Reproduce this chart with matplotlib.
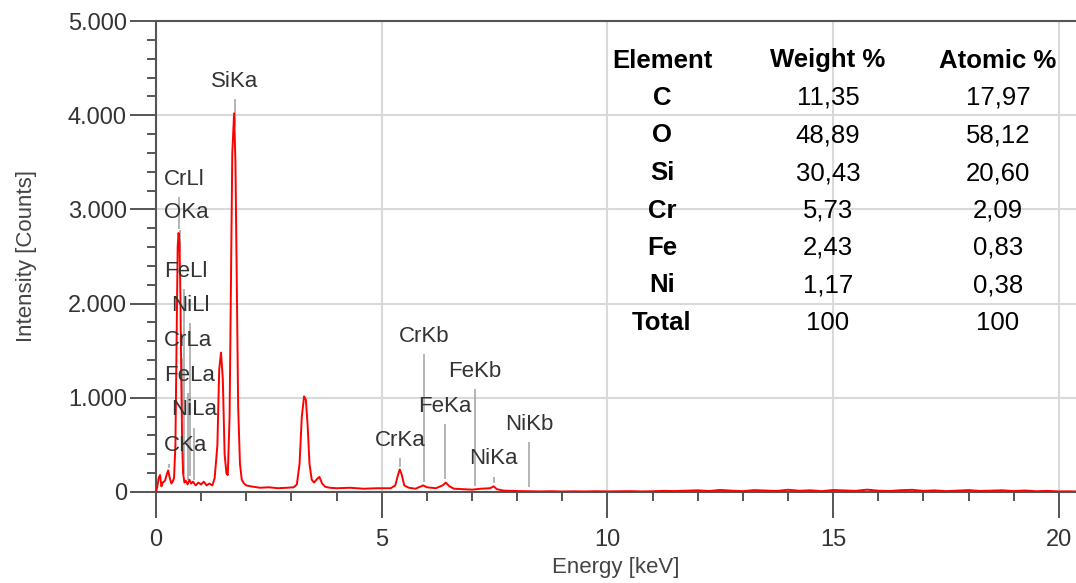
import numpy as np
import matplotlib.pyplot as plt
from matplotlib.ticker import MultipleLocator, FuncFormatter

plt.rcParams['font.family'] = ['Liberation Sans', 'DejaVu Sans']

# EDS spectrum (energy in keV, intensity in counts)
energy_kev = [0.00, 0.03, 0.06, 0.09, 0.12, 0.15, 0.20, 0.24, 0.27, 0.30, 0.34, 0.37, 0.40,
              0.43, 0.46, 0.48, 0.50, 0.52, 0.54, 0.56, 0.58, 0.60, 0.63, 0.66, 0.70, 0.74,
              0.78, 0.82, 0.88, 0.94, 1.00, 1.06, 1.12, 1.18, 1.25, 1.30, 1.36, 1.40, 1.44,
              1.48, 1.52, 1.56, 1.59, 1.63, 1.66, 1.69, 1.73, 1.76, 1.79, 1.82, 1.86, 1.90,
              1.95, 2.00, 2.10, 2.30, 2.50, 2.70, 2.90, 3.05, 3.12, 3.18, 3.23, 3.28, 3.32,
              3.36, 3.40, 3.45, 3.50, 3.57, 3.62, 3.68, 3.75, 3.85, 4.00, 4.30, 4.60, 4.90,
              5.20, 5.30, 5.36, 5.40, 5.44, 5.50, 5.60, 5.75, 5.92, 6.00, 6.20, 6.35, 6.42,
              6.50, 6.60, 6.80, 7.00, 7.20, 7.40, 7.48, 7.55, 7.70,
              8.00, 8.25, 8.50, 8.75, 9.00, 9.25, 9.50, 9.75, 10.00, 10.25, 10.50, 10.75,
              11.00, 11.25, 11.50, 11.75, 12.00, 12.25, 12.50, 12.75, 13.00, 13.25, 13.50,
              13.75, 14.00, 14.25, 14.50, 14.75, 15.00, 15.25, 15.50, 15.75, 16.00, 16.25,
              16.50, 16.75, 17.00, 17.25, 17.50, 17.75, 18.00, 18.25, 18.50, 18.75, 19.00,
              19.25, 19.50, 19.75, 20.00, 20.20, 20.40]
counts = [0, 60, 150, 180, 60, 100, 120, 190, 230, 160, 90, 110, 150,
          500, 1800, 2600, 2750, 2650, 2100, 1200, 500, 200, 100, 120, 80, 130,
          90, 110, 70, 100, 80, 110, 70, 90, 70, 150, 500, 1300, 1480,
          1200, 400, 200, 180, 800, 2200, 3600, 4020, 3500, 2200, 900, 300, 130,
          90, 70, 60, 45, 50, 40, 45, 50, 80, 300, 800, 1015, 980,
          700, 300, 130, 100, 140, 160, 90, 55, 45, 40, 45, 35, 40,
          40, 70, 180, 240, 190, 70, 45, 35, 70, 50, 40, 70, 100,
          60, 35, 30, 25, 35, 40, 60, 30, 15,
          10, 8, 6, 8, 5, 7, 6, 8, 6, 7, 9, 6,
          8, 12, 10, 14, 18, 10, 22, 14, 9, 20, 15,
          11, 24, 13, 18, 9, 21, 16, 12, 25, 14, 10,
          19, 23, 12, 17, 9, 15, 20, 11, 14, 18, 10,
          16, 8, 12, 6, 7, 5]

# identified X-ray lines and the height of their marker lines
line_labels = ['CKa', 'CrLl', 'OKa', 'FeLl', 'NiLl', 'CrLa', 'FeLa', 'NiLa', 'SiKa',
               'CrKa', 'CrKb', 'FeKa', 'FeKb', 'NiKa', 'NiKb']
line_energy = [0.277, 0.500, 0.525, 0.615, 0.743, 0.573, 0.705, 0.851, 1.740,
               5.415, 5.947, 6.404, 7.058, 7.478, 8.265]
line_top = [300, 3130, 2780, 2150, 1790, 1420, 1050, 680, 4170,
            360, 1460, 720, 1090, 160, 530]

# quantification table
table_header = ['Element', 'Weight %', 'Atomic %']
elements = ['C', 'O', 'Si', 'Cr', 'Fe', 'Ni', 'Total']
weight_pct = ['11,35', '48,89', '30,43', '5,73', '2,43', '1,17', '100']
atomic_pct = ['17,97', '58,12', '20,60', '2,09', '0,83', '0,38', '100']

W, H = 1076, 583
fig = plt.figure(figsize=(W / 100, H / 100), dpi=100)
ax = fig.add_axes([156 / W, 91 / H, 920 / W, 471 / H])

ax.plot(energy_kev, counts, color='#ff0000', lw=1.4, zorder=3)

# marker lines start just above the spectrum
bottoms = np.interp(line_energy, energy_kev, counts) + 40
ax.vlines(line_energy, bottoms, line_top, color='#a0a0a0', lw=1.1, zorder=2)

# the low-energy labels are stacked on the left, the others centred on their line
left_x = {'CKa': 0.17, 'CrLl': 0.17, 'OKa': 0.17, 'FeLl': 0.17, 'NiLl': 0.33,
          'CrLa': 0.17, 'FeLa': 0.17, 'NiLa': 0.33}
for lab, e, top in zip(line_labels, line_energy, line_top):
    if lab in left_x:
        ax.annotate(lab, (left_x[lab], top), xytext=(0, 18), textcoords='offset pixels',
                    ha='left', va='center', fontsize=16, color='#333333', zorder=4)
    else:
        ax.annotate(lab, (e, top), xytext=(0, 18), textcoords='offset pixels',
                    ha='center', va='center', fontsize=16, color='#333333', zorder=4)

# table drawn in pixel positions of the figure
col_x = [662, 828, 998]
row_y = [58 + 37.5 * i for i in range(8)]
tfs = 18.5
for cx, txt in zip(col_x, table_header):
    fig.text(cx / W, 1 - row_y[0] / H, txt, ha='center', va='center_baseline',
             fontsize=tfs, fontweight='bold', color='black')
for i, (el, wp, ap) in enumerate(zip(elements, weight_pct, atomic_pct)):
    yy = 1 - row_y[i + 1] / H
    fig.text(col_x[0] / W, yy, el, ha='center', va='center_baseline', fontsize=tfs,
             fontweight='bold', color='black')
    fig.text(col_x[1] / W, yy, wp, ha='center', va='center_baseline', fontsize=tfs,
             color='black')
    fig.text(col_x[2] / W, yy, ap, ha='center', va='center_baseline', fontsize=tfs,
             color='black')

ax.set_xlim(0, 20.38)
ax.set_ylim(0, 5000)
ax.xaxis.set_major_locator(MultipleLocator(5))
ax.xaxis.set_minor_locator(MultipleLocator(1))
ax.yaxis.set_major_locator(MultipleLocator(1000))
ax.yaxis.set_minor_locator(MultipleLocator(200))
ax.yaxis.set_major_formatter(FuncFormatter(lambda v, p: f'{int(v):,}'.replace(',', '.')))

ax.grid(True, which='major', color='#d9d9d9', lw=1.5, zorder=0)
ax.set_axisbelow(True)
for s in ['left', 'bottom', 'top']:
    ax.spines[s].set_color('#555555')
    ax.spines[s].set_linewidth(1.5)
ax.spines['right'].set_visible(False)

ax.tick_params(which='major', direction='out', length=19, width=1.4, color='#555555',
               labelsize=17, labelcolor='#333333')
ax.tick_params(which='minor', direction='out', length=6.5, width=1.4, color='#555555')
ax.tick_params(axis='y', which='major', pad=2)
ax.tick_params(axis='x', which='major', pad=8)

ax.set_xlabel('Energy [keV]', fontsize=16, color='#444444', labelpad=4)
ax.set_ylabel('Intensity [Counts]', fontsize=16, color='#444444', labelpad=22)

fig.savefig('out.png', dpi=100)
